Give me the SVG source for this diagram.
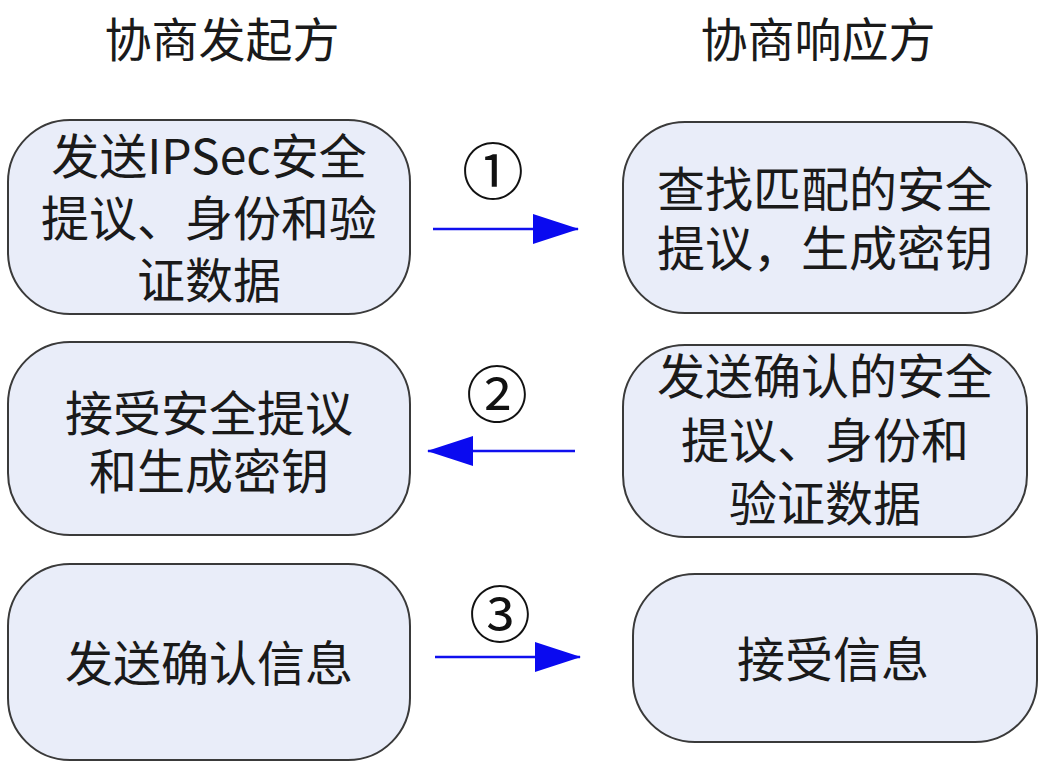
<svg xmlns="http://www.w3.org/2000/svg" width="1040" height="771" viewBox="0 0 1040 771">
<style>
.node rect{fill:#e9edf9;stroke:#3a3a3a;stroke-width:2}
.t{font-family:"Noto Sans CJK SC","Liberation Sans",sans-serif;font-size:48px;fill:#1a1a1a;text-anchor:middle;dominant-baseline:central}
.h{font-family:"Noto Sans CJK SC","Liberation Sans",sans-serif;font-size:47px;fill:#1a1a1a;text-anchor:middle;dominant-baseline:central}
.n{font-family:"Liberation Serif","Noto Sans CJK SC",serif;font-size:62px;fill:#111;text-anchor:middle;dominant-baseline:central}
.c{stroke:#1010ee;stroke-width:2.5;fill:none}
</style>
<defs>
<marker id="ah" markerWidth="46" markerHeight="30" refX="45" refY="15" orient="auto" markerUnits="userSpaceOnUse">
<path d="M0,0 L46,15 L0,30 Z" fill="#0a0af0"/>
</marker>
</defs>
<text class="h" x="222" y="36">协商发起方</text>
<text class="h" x="818" y="36">协商响应方</text>
<g id="n1" class="node">
<rect x="8" y="120" width="402" height="194" rx="62" ry="62"/>
<text class="t"><tspan x="209" y="153">发送IPSec安全</tspan><tspan x="209" y="215">提议、身份和验</tspan><tspan x="209" y="277">证数据</tspan></text>
</g>
<g id="n2" class="node">
<rect x="623" y="122" width="404" height="191" rx="62" ry="62"/>
<text class="t"><tspan x="825" y="186">查找匹配的安全</tspan><tspan x="825" y="245">提议，生成密钥</tspan></text>
</g>
<g id="n3" class="node">
<rect x="8" y="342" width="402" height="193" rx="62" ry="62"/>
<text class="t"><tspan x="209" y="410">接受安全提议</tspan><tspan x="209" y="468">和生成密钥</tspan></text>
</g>
<g id="n4" class="node">
<rect x="623" y="345" width="404" height="192" rx="62" ry="62"/>
<text class="t"><tspan x="825" y="373">发送确认的安全</tspan><tspan x="825" y="437">提议、身份和</tspan><tspan x="825" y="500">验证数据</tspan></text>
</g>
<g id="n5" class="node">
<rect x="8" y="564" width="402" height="196" rx="62" ry="62"/>
<text class="t" x="209" y="660">发送确认信息</text>
</g>
<g id="n6" class="node">
<rect x="633" y="574" width="404" height="168" rx="62" ry="62"/>
<text class="t" x="833" y="656">接受信息</text>
</g>
<g id="connectors">
<line class="c" x1="433" y1="229" x2="578" y2="229" marker-end="url(#ah)"/>
<line class="c" x1="575" y1="451" x2="428" y2="451" marker-end="url(#ah)"/>
<line class="c" x1="435" y1="657" x2="580" y2="657" marker-end="url(#ah)"/>
<text class="n" x="493" y="174">①</text>
<text class="n" x="497" y="397">②</text>
<text class="n" x="500" y="617">③</text>
</g>
</svg>
